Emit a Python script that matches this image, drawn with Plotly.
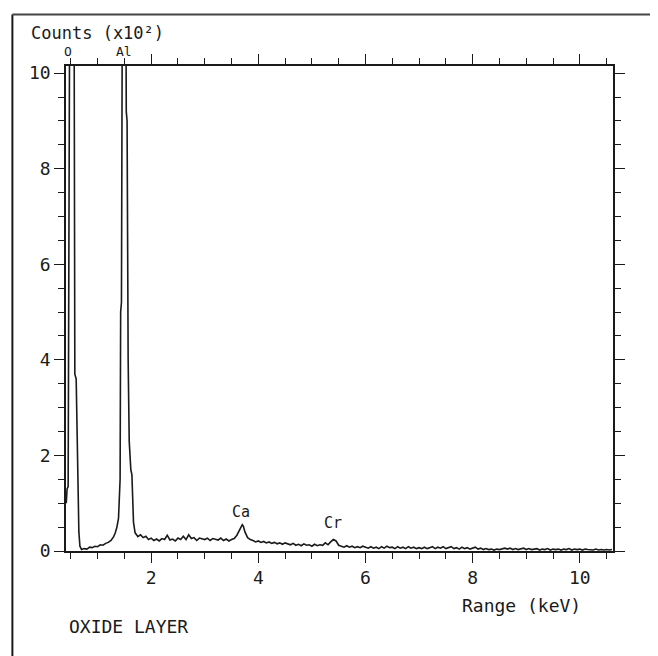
import plotly.graph_objects as go

# Energy (keV) and counts (x10^2)
energy = [
    0.415, 0.43, 0.45, 0.47, 0.48, 0.50, 0.52, 0.54, 0.56, 0.575, 0.60, 0.62, 0.635, 0.65, 0.67,
    0.70, 0.75, 0.80, 0.85, 0.90, 0.95, 1.00, 1.05, 1.10, 1.15, 1.20, 1.25, 1.30, 1.33,
    1.36, 1.39, 1.42, 1.43, 1.445, 1.46, 1.49, 1.52, 1.535, 1.55, 1.57, 1.59, 1.62, 1.64, 1.67, 1.70, 1.74,
    1.75, 1.80, 1.85, 1.90, 1.95, 2.00, 2.05, 2.10, 2.15, 2.20, 2.25, 2.30, 2.35, 2.40, 2.45,
    2.50, 2.55, 2.60, 2.65, 2.70, 2.75, 2.80, 2.85, 2.90, 2.95, 3.00, 3.05, 3.10, 3.15, 3.20,
    3.25, 3.30, 3.35, 3.40, 3.45, 3.50, 3.55, 3.60, 3.65, 3.70, 3.72, 3.75, 3.80, 3.85, 3.90,
    3.95, 4.00, 4.05, 4.10, 4.15, 4.20, 4.25, 4.30, 4.35, 4.40, 4.45, 4.50, 4.55, 4.60, 4.65,
    4.70, 4.75, 4.80, 4.85, 4.90, 4.95, 5.00, 5.05, 5.10, 5.15, 5.20, 5.25, 5.30, 5.35, 5.40,
    5.45, 5.50, 5.55, 5.60, 5.65, 5.70, 5.75, 5.80, 5.85, 5.90, 5.95, 6.00, 6.05, 6.10, 6.15,
    6.20, 6.25, 6.30, 6.35, 6.40, 6.45, 6.50, 6.55, 6.60, 6.65, 6.70, 6.75, 6.80, 6.85, 6.90,
    6.95, 7.00, 7.05, 7.10, 7.15, 7.20, 7.25, 7.30, 7.35, 7.40, 7.45, 7.50, 7.55, 7.60, 7.65,
    7.70, 7.75, 7.80, 7.85, 7.90, 7.95, 8.00, 8.05, 8.10, 8.15, 8.20, 8.25, 8.30, 8.35, 8.40,
    8.45, 8.50, 8.55, 8.60, 8.65, 8.70, 8.75, 8.80, 8.85, 8.90, 8.95, 9.00, 9.05, 9.10, 9.15,
    9.20, 9.25, 9.30, 9.35, 9.40, 9.45, 9.50, 9.55, 9.60, 9.65, 9.70, 9.75, 9.80, 9.85, 9.90,
    9.95, 10.00, 10.05, 10.10, 10.15, 10.20, 10.25, 10.30, 10.35, 10.40, 10.45, 10.50, 10.55, 10.60,
]
counts = [
    1.00, 1.30, 1.35, 9.0, 12.0, 15.0, 16.0, 15.0, 12.0, 3.70, 3.60, 2.10, 1.30, 0.40, 0.10,
    0.03, 0.05, 0.04, 0.08, 0.07, 0.10, 0.09, 0.13, 0.12, 0.16, 0.18, 0.22, 0.30, 0.38,
    0.50, 0.68, 1.50, 5.00, 5.20, 11.0, 16.0, 14.0, 9.20, 9.00, 4.00, 2.30, 1.70, 1.60, 0.60, 0.38, 0.32,
    0.30, 0.34, 0.28, 0.31, 0.24, 0.27, 0.22, 0.25, 0.21, 0.26, 0.24, 0.33, 0.23, 0.25, 0.21,
    0.27, 0.24, 0.31, 0.24, 0.34, 0.26, 0.28, 0.22, 0.27, 0.25, 0.24, 0.27, 0.22, 0.26, 0.24,
    0.23, 0.27, 0.22, 0.25, 0.21, 0.24, 0.26, 0.33, 0.45, 0.55, 0.52, 0.40, 0.28, 0.24, 0.22,
    0.19, 0.21, 0.18, 0.20, 0.17, 0.19, 0.16, 0.18, 0.15, 0.17, 0.14, 0.17, 0.15, 0.13, 0.16,
    0.12, 0.14, 0.11, 0.15, 0.12, 0.13, 0.10, 0.14, 0.11, 0.13, 0.12, 0.17, 0.13, 0.19, 0.24,
    0.21, 0.12, 0.10, 0.08, 0.11, 0.08, 0.10, 0.07, 0.09, 0.07, 0.10, 0.08, 0.06, 0.09, 0.06,
    0.08, 0.05, 0.09, 0.06, 0.10, 0.07, 0.08, 0.05, 0.09, 0.06, 0.08, 0.05, 0.09, 0.06, 0.08,
    0.05, 0.07, 0.05, 0.08, 0.05, 0.07, 0.09, 0.05, 0.08, 0.06, 0.09, 0.05, 0.07, 0.09, 0.05,
    0.07, 0.04, 0.08, 0.05, 0.07, 0.04, 0.06, 0.08, 0.04, 0.06, 0.03, 0.05, 0.03, 0.04, 0.02,
    0.04, 0.03, 0.05, 0.06, 0.04, 0.06, 0.03, 0.05, 0.03, 0.05, 0.06, 0.03, 0.05, 0.03, 0.04,
    0.05, 0.02, 0.04, 0.03, 0.05, 0.02, 0.04, 0.03, 0.04, 0.02, 0.04, 0.03, 0.05, 0.02, 0.04,
    0.03, 0.04, 0.02, 0.04, 0.03, 0.03, 0.02, 0.04, 0.02, 0.03, 0.02, 0.03, 0.02, 0.03,
]

peak_labels = ["Ca", "Cr"]
peak_x = [3.68, 5.39]
peak_y = [0.82, 0.59]

top_labels = ["O", "Al"]
top_x = [0.45, 1.49]

x_ticks = [2, 4, 6, 8, 10]
y_ticks = [0, 2, 4, 6, 8, 10]

FONT = "DejaVu Sans Mono"
INK = "#1a1a1a"

fig = go.Figure()
fig.add_trace(go.Scatter(x=energy, y=counts, mode="lines",
                         line=dict(color=INK, width=1.6), hoverinfo="skip",
                         showlegend=False))

axis_common = dict(
    showgrid=False, zeroline=False, showline=True, linecolor=INK, linewidth=1.5,
    mirror="ticks", ticks="outside", ticklen=10, tickwidth=1.4, tickcolor=INK,
    tickfont=dict(family=FONT, size=18, color=INK),
)

fig.update_xaxes(range=[0.41, 10.62], tickmode="array", tickvals=x_ticks,
                 ticktext=[str(v) for v in x_ticks],
                 minor=dict(dtick=0.5, tick0=0, ticklen=6, tickwidth=1.2,
                            tickcolor=INK, ticks="outside", showgrid=False),
                 **axis_common)
fig.update_yaxes(range=[0, 10.15], tickmode="array", tickvals=y_ticks,
                 ticktext=[str(v) for v in y_ticks],
                 minor=dict(dtick=0.5, tick0=0, ticklen=6, tickwidth=1.2,
                            tickcolor=INK, ticks="outside", showgrid=False),
                 **axis_common)

annotations = []
for t, x in zip(top_labels, top_x):
    annotations.append(dict(text=t, x=x, xref="x", y=1.029, yref="paper",
                            showarrow=False, font=dict(family=FONT, size=13, color=INK),
                            xanchor="center", yanchor="middle", borderpad=0))
for t, x, y in zip(peak_labels, peak_x, peak_y):
    annotations.append(dict(text=t, x=x, xref="x", y=y, yref="y",
                            showarrow=False, font=dict(family=FONT, size=15, color=INK),
                            xanchor="center", yanchor="middle"))
annotations.append(dict(text="Counts (x10²)", x=-0.066, xref="paper",
                        y=1.068, yref="paper", showarrow=False, xanchor="left",
                        yanchor="middle", borderpad=0,
                        font=dict(family=FONT, size=17, color=INK)))
annotations.append(dict(text="Range (keV)", x=0.8336, xref="paper", y=-0.1134,
                        yref="paper", showarrow=False, xanchor="center", yanchor="middle",
                        font=dict(family=FONT, size=18, color=INK)))
annotations.append(dict(text="OXIDE LAYER", x=0.002, xref="paper", y=-0.1567,
                        yref="paper", showarrow=False, xanchor="left", yanchor="middle",
                        font=dict(family=FONT, size=18, color=INK)))

shapes = [
    dict(type="line", xref="paper", yref="paper", x0=-0.098, x1=-0.098, y0=-0.22, y1=1.106,
         line=dict(color=INK, width=2)),
    dict(type="line", xref="paper", yref="paper", x0=-0.098, x1=1.09, y0=1.106, y1=1.106,
         line=dict(color="#444", width=2)),
]

# The page body adds an 8px margin, so the figure is sized to fit the window.
fig.update_layout(
    width=650, height=648,
    margin=dict(l=58, r=45, t=58, b=105),
    paper_bgcolor="white", plot_bgcolor="white",
    annotations=annotations, shapes=shapes,
    showlegend=False,
)

fig.write_html("out.html")
